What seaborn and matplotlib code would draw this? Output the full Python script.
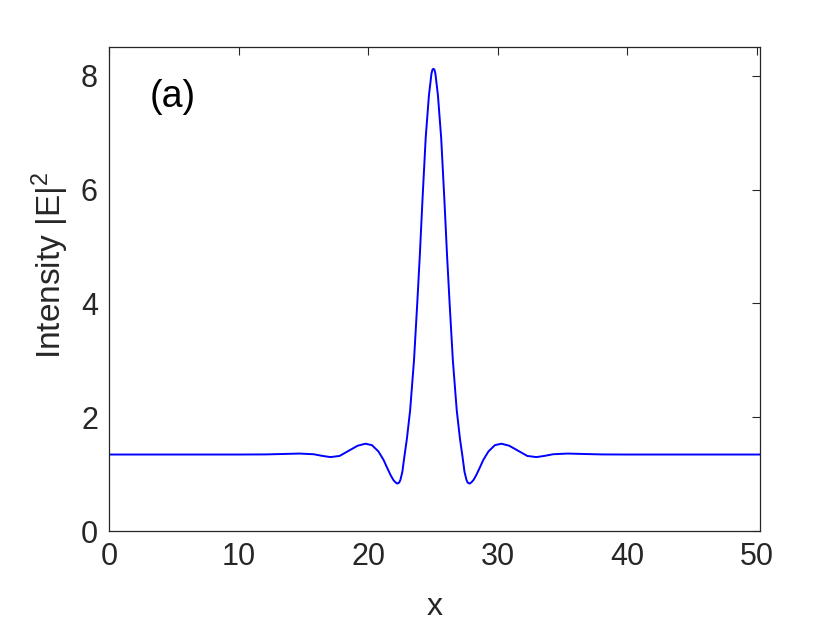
import matplotlib
matplotlib.use("Agg")
import matplotlib.pyplot as plt
import seaborn as sns
import pandas as pd

# values
x_vals = [0.0, 5.0, 10.0, 12.1, 13.5, 14.7, 15.8, 16.5, 17.1, 17.8, 18.5, 19.2, 19.8,
          20.3, 20.8, 21.2, 21.5, 21.75, 21.95, 22.1, 22.25, 22.4, 22.5, 22.65, 22.8,
          23.0, 23.25, 23.55, 23.8, 24.0, 24.2, 24.45, 24.7, 24.9, 24.98, 25.05, 25.12,
          25.2, 25.4, 25.65, 25.9, 26.1, 26.3, 26.55, 26.85, 27.1, 27.3, 27.45, 27.6,
          27.7, 27.85, 28.0, 28.15, 28.35, 28.6, 28.9, 29.3, 29.8, 30.3, 30.9, 31.6,
          32.3, 33.0, 33.6, 34.3, 35.4, 36.6, 38.0, 40.0, 45.0, 50.27]
intensity = [1.345, 1.345, 1.345, 1.347, 1.355, 1.362, 1.35, 1.32, 1.30, 1.32, 1.41, 1.50, 1.535,
             1.51, 1.40, 1.25, 1.10, 0.98, 0.90, 0.86, 0.835, 0.85, 0.90, 1.04, 1.30,
             1.62, 2.12, 3.0, 4.0, 4.85, 5.8, 6.9, 7.65, 8.04, 8.11, 8.12, 8.11,
             8.04, 7.65, 6.9, 5.8, 4.85, 4.0, 3.0, 2.12, 1.62, 1.30, 1.04, 0.90,
             0.85, 0.835, 0.86, 0.90, 0.98, 1.10, 1.25, 1.40, 1.51, 1.535, 1.50, 1.41,
             1.32, 1.30, 1.32, 1.35, 1.362, 1.355, 1.347, 1.345, 1.345, 1.345]
x_ticks = [0, 10, 20, 30, 40, 50]
y_ticks = [0, 2, 4, 6, 8]

sns.set_style("white")
plt.rcParams['font.family'] = ['Liberation Sans', 'DejaVu Sans']
plt.rcParams['mathtext.fontset'] = 'custom'
plt.rcParams['mathtext.rm'] = 'Liberation Sans'
plt.rcParams['mathtext.it'] = 'Liberation Sans'

grey = '#262626'
df = pd.DataFrame({'x': x_vals, 'I': intensity})

fig = plt.figure(figsize=(8.4, 6.3), dpi=100)
ax = fig.add_axes([0.1298, 0.157, 0.775, 0.768])
sns.lineplot(data=df, x='x', y='I', color='#0000ff', linewidth=1.4, ax=ax)

ax.set_xlim(0, 50.27)
ax.set_ylim(0, 8.5)
ax.set_xticks(x_ticks)
ax.set_yticks(y_ticks)
ax.tick_params(direction='in', length=6, width=0.8, colors=grey, labelsize=22,
               top=True, right=True, labelcolor=grey, pad=8)
for s in ax.spines.values():
    s.set_color(grey)
    s.set_linewidth(0.9)
    s.set_visible(True)

ax.set_xlabel('x', fontsize=23, color=grey)
ax.xaxis.set_label_coords(0.5, -0.125)
ax.set_ylabel('Intensity |E|$^2$', fontsize=24, color=grey)
ax.yaxis.set_label_coords(-0.058, 0.55)
ax.text(0.063, 0.897, '(a)', transform=ax.transAxes, fontsize=27, color='black',
        va='center', ha='left')

fig.savefig('out.png', dpi=100)
